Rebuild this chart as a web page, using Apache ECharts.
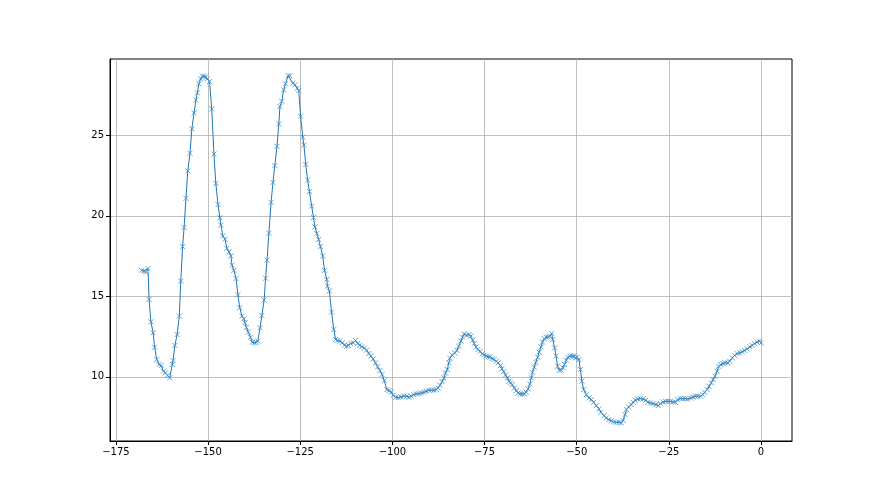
<!DOCTYPE html>
<html>
<head>
<meta charset="utf-8">
<script src="https://cdn.jsdelivr.net/npm/echarts@6/dist/echarts.min.js"></script>
<style>
  html, body { margin: 0; padding: 0; background: #fff; }
  #chart { width: 880px; height: 495px; }
</style>
</head>
<body>
<div id="chart"></div>
<script>
const xs = [
  -168.0, -167.4, -166.9, -166.3, -166.0, -165.5, -164.9, -164.5, -163.9, -163.3,
  -162.7, -162.1, -161.6, -161.0, -160.4, -159.7, -159.5, -159.0, -158.4, -157.8,
  -157.4, -156.9, -156.5, -156.0, -155.5, -154.9, -154.4, -153.8, -153.3, -152.9,
  -152.5, -152.0, -151.5, -151.1, -150.6, -150.2, -149.6, -149.0, -148.4, -147.9,
  -147.3, -146.8, -146.5, -146.0, -145.4, -144.9, -144.3, -143.8, -143.5, -143.0,
  -142.4, -141.9, -141.4, -140.8, -140.3, -140.0, -139.6, -139.1, -138.5, -138.0,
  -137.4, -136.9, -136.5, -135.9, -135.4, -134.8, -134.4, -134.0, -133.5, -132.9,
  -132.4, -131.9, -131.3, -130.8, -130.5, -130.0, -129.5, -129.0, -128.3, -127.8,
  -127.0, -126.4, -125.8, -125.4, -124.9, -124.3, -124.0, -123.5, -123.0, -122.5,
  -121.9, -121.4, -121.0, -120.5, -120.0, -119.5, -118.9, -118.4, -117.8, -117.6,
  -117.1, -116.5, -115.9, -115.4, -114.8, -114.2, -113.6, -113.0, -112.4, -111.9,
  -111.3, -110.6, -110.0, -109.4, -108.9, -108.3, -107.6, -107.0, -106.4, -105.8,
  -105.2, -104.6, -104.0, -103.4, -102.8, -102.2, -101.5, -100.9, -100.3, -99.8,
  -99.1, -98.4, -97.7, -96.9, -96.1, -95.5, -94.9, -94.2, -93.5, -92.8,
  -92.1, -91.4, -90.8, -90.1, -89.4, -88.7, -88.1, -87.6, -87.1, -86.5,
  -86.0, -85.6, -85.1, -84.7, -84.4, -83.8, -83.1, -82.5, -82.0, -81.4,
  -81.0, -80.5, -79.9, -79.2, -78.7, -78.2, -77.8, -77.3, -76.8, -76.2,
  -75.6, -75.1, -74.5, -74.0, -73.5, -72.9, -72.4, -71.8, -71.3, -70.7,
  -70.3, -69.8, -69.3, -68.8, -68.4, -67.9, -67.5, -66.9, -66.4, -65.9,
  -65.4, -64.8, -64.2, -63.7, -63.2, -62.7, -62.3, -62.0, -61.5, -61.1,
  -60.6, -60.2, -59.7, -59.3, -58.8, -58.3, -57.7, -57.3, -56.8, -56.5,
  -56.0, -55.6, -55.2, -54.7, -54.2, -53.7, -53.3, -52.8, -52.4, -51.8,
  -51.2, -50.7, -50.3, -49.9, -49.4, -49.0, -48.6, -48.1, -47.4, -46.7,
  -46.0, -45.4, -44.7, -44.0, -43.4, -42.6, -42.0, -41.3, -40.6, -40.0,
  -39.2, -38.5, -37.9, -37.4, -36.9, -36.5, -35.9, -35.2, -34.7, -34.1,
  -33.4, -32.7, -32.0, -31.3, -30.7, -30.0, -29.3, -28.5, -27.9, -27.3,
  -26.6, -25.9, -25.2, -24.6, -23.8, -23.2, -22.6, -21.9, -21.2, -20.5,
  -19.9, -19.1, -18.5, -17.8, -17.2, -16.4, -15.8, -15.3, -14.6, -14.1,
  -13.5, -13.0, -12.5, -11.9, -11.5, -11.0, -10.3, -9.7, -9.0, -8.5,
  -7.8, -7.2, -6.5, -5.8, -5.1, -4.5, -3.8, -3.0, -2.4, -1.8,
  -1.1, -0.4, 0.0
]
const ys = [
  16.61, 16.57, 16.51, 16.72, 14.81, 13.42, 12.74, 11.84, 11.08, 10.77,
  10.70, 10.35, 10.25, 10.08, 9.94, 10.77, 11.01, 11.95, 12.63, 13.77,
  15.95, 18.09, 19.27, 21.08, 22.79, 23.88, 25.39, 26.38, 27.19, 27.63,
  28.19, 28.50, 28.67, 28.64, 28.61, 28.50, 28.33, 26.63, 23.83, 22.01,
  20.70, 19.87, 19.42, 18.75, 18.54, 17.98, 17.75, 17.50, 16.93, 16.61,
  16.10, 15.10, 14.29, 13.77, 13.61, 13.36, 13.07, 12.78, 12.46, 12.15,
  12.12, 12.15, 12.22, 13.05, 13.81, 14.77, 16.12, 17.24, 18.92, 20.83,
  22.07, 23.11, 24.31, 25.70, 26.78, 27.11, 27.82, 28.19, 28.69, 28.69,
  28.23, 28.13, 27.92, 27.77, 26.18, 24.87, 24.39, 23.19, 22.22, 21.51,
  20.60, 19.89, 19.31, 18.90, 18.53, 18.09, 17.50, 16.61, 16.05, 15.64,
  15.33, 14.02, 12.94, 12.32, 12.26, 12.22, 12.12, 11.97, 11.90, 11.95,
  12.07, 12.12, 12.26, 12.07, 11.95, 11.87, 11.78, 11.66, 11.45, 11.28,
  11.12, 10.87, 10.62, 10.39, 10.14, 9.77, 9.21, 9.15, 9.07, 8.85,
  8.73, 8.71, 8.76, 8.80, 8.80, 8.73, 8.80, 8.90, 8.94, 8.96,
  9.00, 9.05, 9.11, 9.17, 9.17, 9.17, 9.21, 9.31, 9.48, 9.71,
  9.94, 10.25, 10.46, 10.87, 11.16, 11.35, 11.49, 11.64, 11.91, 12.22,
  12.47, 12.67, 12.59, 12.63, 12.53, 12.28, 12.07, 11.85, 11.70, 11.58,
  11.43, 11.35, 11.29, 11.24, 11.22, 11.14, 11.08, 10.97, 10.87, 10.70,
  10.50, 10.33, 10.12, 9.94, 9.73, 9.63, 9.52, 9.31, 9.15, 9.00,
  8.94, 8.94, 8.94, 9.05, 9.25, 9.56, 9.94, 10.29, 10.60, 10.91,
  11.22, 11.53, 11.86, 12.16, 12.38, 12.47, 12.47, 12.53, 12.70, 12.32,
  11.80, 11.29, 10.66, 10.41, 10.41, 10.56, 10.77, 11.04, 11.22, 11.29,
  11.29, 11.29, 11.18, 11.22, 11.08, 10.46, 9.73, 9.21, 8.90, 8.69,
  8.59, 8.42, 8.22, 8.01, 7.80, 7.59, 7.45, 7.34, 7.28, 7.20,
  7.18, 7.18, 7.14, 7.30, 7.66, 7.97, 8.13, 8.28, 8.42, 8.55,
  8.63, 8.65, 8.63, 8.55, 8.42, 8.38, 8.34, 8.28, 8.22, 8.34,
  8.44, 8.48, 8.48, 8.48, 8.44, 8.42, 8.59, 8.65, 8.65, 8.65,
  8.63, 8.69, 8.75, 8.80, 8.80, 8.80, 8.90, 9.04, 9.21, 9.42,
  9.63, 9.83, 10.04, 10.35, 10.66, 10.77, 10.83, 10.87, 10.87, 10.97,
  11.18, 11.33, 11.45, 11.49, 11.55, 11.64, 11.74, 11.87, 11.95, 12.07,
  12.16, 12.22, 12.11
]
const xTicks = [-175, -150, -125, -100, -75, -50, -25, 0]
const yTicks = [10, 15, 20, 25]

const minus = v => String(v).replace('-', '\u2212')
const font = { fontFamily: 'DejaVu Sans', fontSize: 10, color: '#000' }

const chart = echarts.init(document.querySelector('#chart'))
chart.setOption({
  animation: false,
  grid: {
    left: 110, right: 88, top: 59, bottom: 54,
    show: true, borderColor: '#000', borderWidth: 1, backgroundColor: 'transparent'
  },
  xAxis: {
    type: 'value',
    min: -176.6,
    max: 8.4,
    axisLine: { show: true, onZero: false, lineStyle: { color: '#000', width: 1 } },
    axisTick: { show: true, length: 4, customValues: xTicks, lineStyle: { color: '#000' } },
    axisLabel: { ...font, margin: 6, customValues: xTicks, formatter: minus },
    splitLine: { show: true, customValues: xTicks, lineStyle: { color: '#b0b0b0', width: 0.8 } }
  },
  yAxis: {
    type: 'value',
    min: 6.02,
    max: 29.73,
    axisLine: { show: true, onZero: false, lineStyle: { color: '#000', width: 1 } },
    axisTick: { show: true, length: 4, customValues: yTicks, lineStyle: { color: '#000' } },
    axisLabel: { ...font, margin: 6, customValues: yTicks },
    splitLine: { show: true, customValues: yTicks, lineStyle: { color: '#b0b0b0', width: 0.8 } }
  },
  series: [
    {
      type: 'line',
      data: xs.map((x, i) => [x, ys[i]]),
      symbol: 'path://M0,0L10,10M10,0L0,10',
      symbolSize: 5,
      showAllSymbol: true,
      lineStyle: { color: '#1f77b4', width: 1 },
      itemStyle: { color: '#1f77b4', borderColor: '#3b8bc6', borderWidth: 0.8 }
    }
  ]
})
</script>
</body>
</html>
